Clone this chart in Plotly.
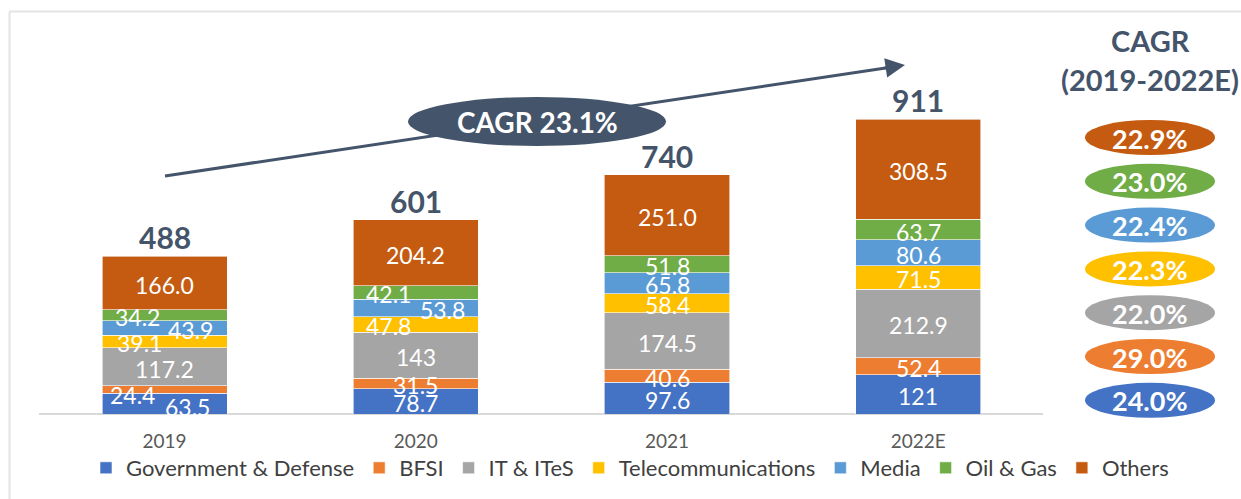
import plotly.graph_objects as go

# ---- data -------------------------------------------------------------
years = ["2019", "2020", "2021", "2022E"]
series_names = ["Government & Defense", "BFSI", "IT & ITeS", "Telecommunications",
                "Media", "Oil & Gas", "Others"]
gov_defense = [63.5, 78.7, 97.6, 121]
bfsi = [24.4, 31.5, 40.6, 52.4]
it_ites = [117.2, 143, 174.5, 212.9]
telecom = [39.1, 47.8, 58.4, 71.5]
media = [43.9, 53.8, 65.8, 80.6]
oil_gas = [34.2, 42.1, 51.8, 63.7]
others = [166.0, 204.2, 251.0, 308.5]
totals = [488, 601, 740, 911]
segment_cagr = [24.0, 29.0, 22.0, 22.3, 22.4, 23.0, 22.9]   # same order as series_names
overall_cagr = 23.1

series_values = [gov_defense, bfsi, it_ites, telecom, media, oil_gas, others]

# ---- styling ----------------------------------------------------------
colors = ["#4472C4", "#ED7D31", "#A5A5A5", "#FFC000", "#5B9BD5", "#70AD47", "#C55A11"]
DARK = "#44546A"
FONT = "Lato"
W, H = 1241, 499
ML, MR, MT, MB = 39, 0, 11, 85
PLOT_W = W - ML - MR
PLOT_H = H - MT - MB
CAT_PX = 251.2                 # pixel width of one category slot
X_RANGE = [-0.5, -0.5 + PLOT_W / CAT_PX]
Y_MAX = 1246

# horizontal nudges for crowded labels in the thin segments (pixels)
label_dx = {
    (0, 0): 23, (1, 0): -32, (3, 0): -25, (4, 0): 26, (5, 0): -27,
    (3, 1): -27, (4, 1): 27, (5, 1): -27,
}
label_dy = {(0, 0): -3, (1, 0): -5}


def px_x(p):
    return (p - ML) / PLOT_W


def px_y(p):
    return (H - MB - p) / PLOT_H


def fmt(v):
    return str(v) if isinstance(v, int) else f"{v:.1f}"


def paper_text(xp, yp, text, size, color):
    return dict(x=px_x(xp), y=px_y(yp), xref="paper", yref="paper", text=text,
                showarrow=False, xanchor="center", yanchor="middle",
                font=dict(family=FONT, size=size, color=color))


fig = go.Figure()
for name, vals, col in zip(series_names, series_values, colors):
    fig.add_trace(go.Bar(
        x=years, y=vals, name=name,
        marker=dict(color=col, line=dict(color="white", width=0.6)),
        hoverinfo="skip",
    ))

annotations = []
shapes = []

# value labels inside each stacked segment (x given as category index)
for j in range(len(years)):
    base = 0.0
    for i, vals in enumerate(series_values):
        v = vals[j]
        annotations.append(dict(
            x=j, y=base + v / 2, xref="x", yref="y", text=fmt(v), showarrow=False,
            xanchor="center", yanchor="middle",
            xshift=label_dx.get((i, j), 0), yshift=label_dy.get((i, j), -2),
            font=dict(family=FONT, size=23, color="white"),
        ))
        base += v
    # total above the bar
    annotations.append(dict(
        x=j, y=totals[j], xref="x", yref="y", text=f"<b>{totals[j]}</b>",
        showarrow=False, xanchor="center", yanchor="middle", yshift=19,
        font=dict(family=FONT, size=30, color=DARK),
    ))

# growth arrow with the overall CAGR badge
x0p, y0p, x1p, y1p = 165, 176, 905, 65
shapes.append(dict(type="line", xref="paper", yref="paper",
                   x0=px_x(x0p), y0=px_y(y0p), x1=px_x(x1p - 6), y1=px_y(y1p + 1),
                   line=dict(color=DARK, width=3), layer="above"))
dx, dy = x1p - x0p, y1p - y0p
L = (dx ** 2 + dy ** 2) ** 0.5
annotations.append(dict(
    x=px_x(x1p), y=px_y(y1p), xref="paper", yref="paper", text="",
    showarrow=True, axref="pixel", ayref="pixel",
    ax=-dx / L * 22, ay=-dy / L * 22,
    arrowhead=2, arrowsize=1.3, arrowwidth=3, arrowcolor=DARK,
))
shapes.append(dict(type="circle", xref="paper", yref="paper",
                   x0=px_x(408), x1=px_x(666), y0=px_y(146), y1=px_y(97),
                   fillcolor=DARK, line=dict(width=0), layer="above"))
annotations.append(paper_text(537, 122, f"<b>CAGR {overall_cagr:.1f}%</b>", 28, "white"))

# right-hand CAGR panel
annotations.append(paper_text(1150, 40, "<b>CAGR</b>", 29, DARK))
annotations.append(paper_text(1150, 79, "<b>(2019-2022E)</b>", 29, DARK))
n = len(series_names)
for k in range(n):
    i = n - 1 - k   # Others at the top down to Government at the bottom
    cy = 137.5 + k * 43.8
    shapes.append(dict(type="circle", xref="paper", yref="paper",
                       x0=px_x(1085), x1=px_x(1215), y0=px_y(cy + 17.5), y1=px_y(cy - 17.5),
                       fillcolor=colors[i], line=dict(width=0), layer="above"))
    annotations.append(paper_text(1150, cy + 0.5, f"<b>{segment_cagr[i]:.1f}%</b>", 27, "white"))

# light frame along the top and left edges
shapes.append(dict(type="line", xref="paper", yref="paper",
                   x0=px_x(9.5), x1=px_x(W + 5), y0=px_y(11.5), y1=px_y(11.5),
                   line=dict(color="#E4E4E4", width=2), layer="above"))
shapes.append(dict(type="line", xref="paper", yref="paper",
                   x0=px_x(9.5), x1=px_x(9.5), y0=px_y(11.5), y1=px_y(H + 5),
                   line=dict(color="#E4E4E4", width=2), layer="above"))
# category baseline, only under the bars
shapes.append(dict(type="line", xref="paper", yref="paper",
                   x0=0, x1=px_x(1043), y0=0, y1=0,
                   line=dict(color="#D9D9D9", width=2), layer="below"))

fig.update_layout(
    width=W, height=H,
    margin=dict(l=ML, r=MR, t=MT, b=MB, autoexpand=False),
    barmode="stack", bargap=0.502,
    paper_bgcolor="white", plot_bgcolor="white",
    showlegend=True,
    legend=dict(orientation="h", x=px_x(630), xanchor="center",
                y=px_y(468), yanchor="middle", traceorder="normal",
                font=dict(family=FONT, size=22, color="#404040"),
                itemwidth=30, bgcolor="rgba(0,0,0,0)"),
    xaxis=dict(type="category", range=X_RANGE, showline=False, ticks="",
               showgrid=False, zeroline=False, ticklabelstandoff=14,
               tickfont=dict(family=FONT, size=19, color="#595959"), fixedrange=True),
    yaxis=dict(range=[0, Y_MAX], visible=False, showgrid=False, zeroline=False,
               fixedrange=True),
    annotations=annotations,
    shapes=shapes,
)

fig.write_html("out.html")
